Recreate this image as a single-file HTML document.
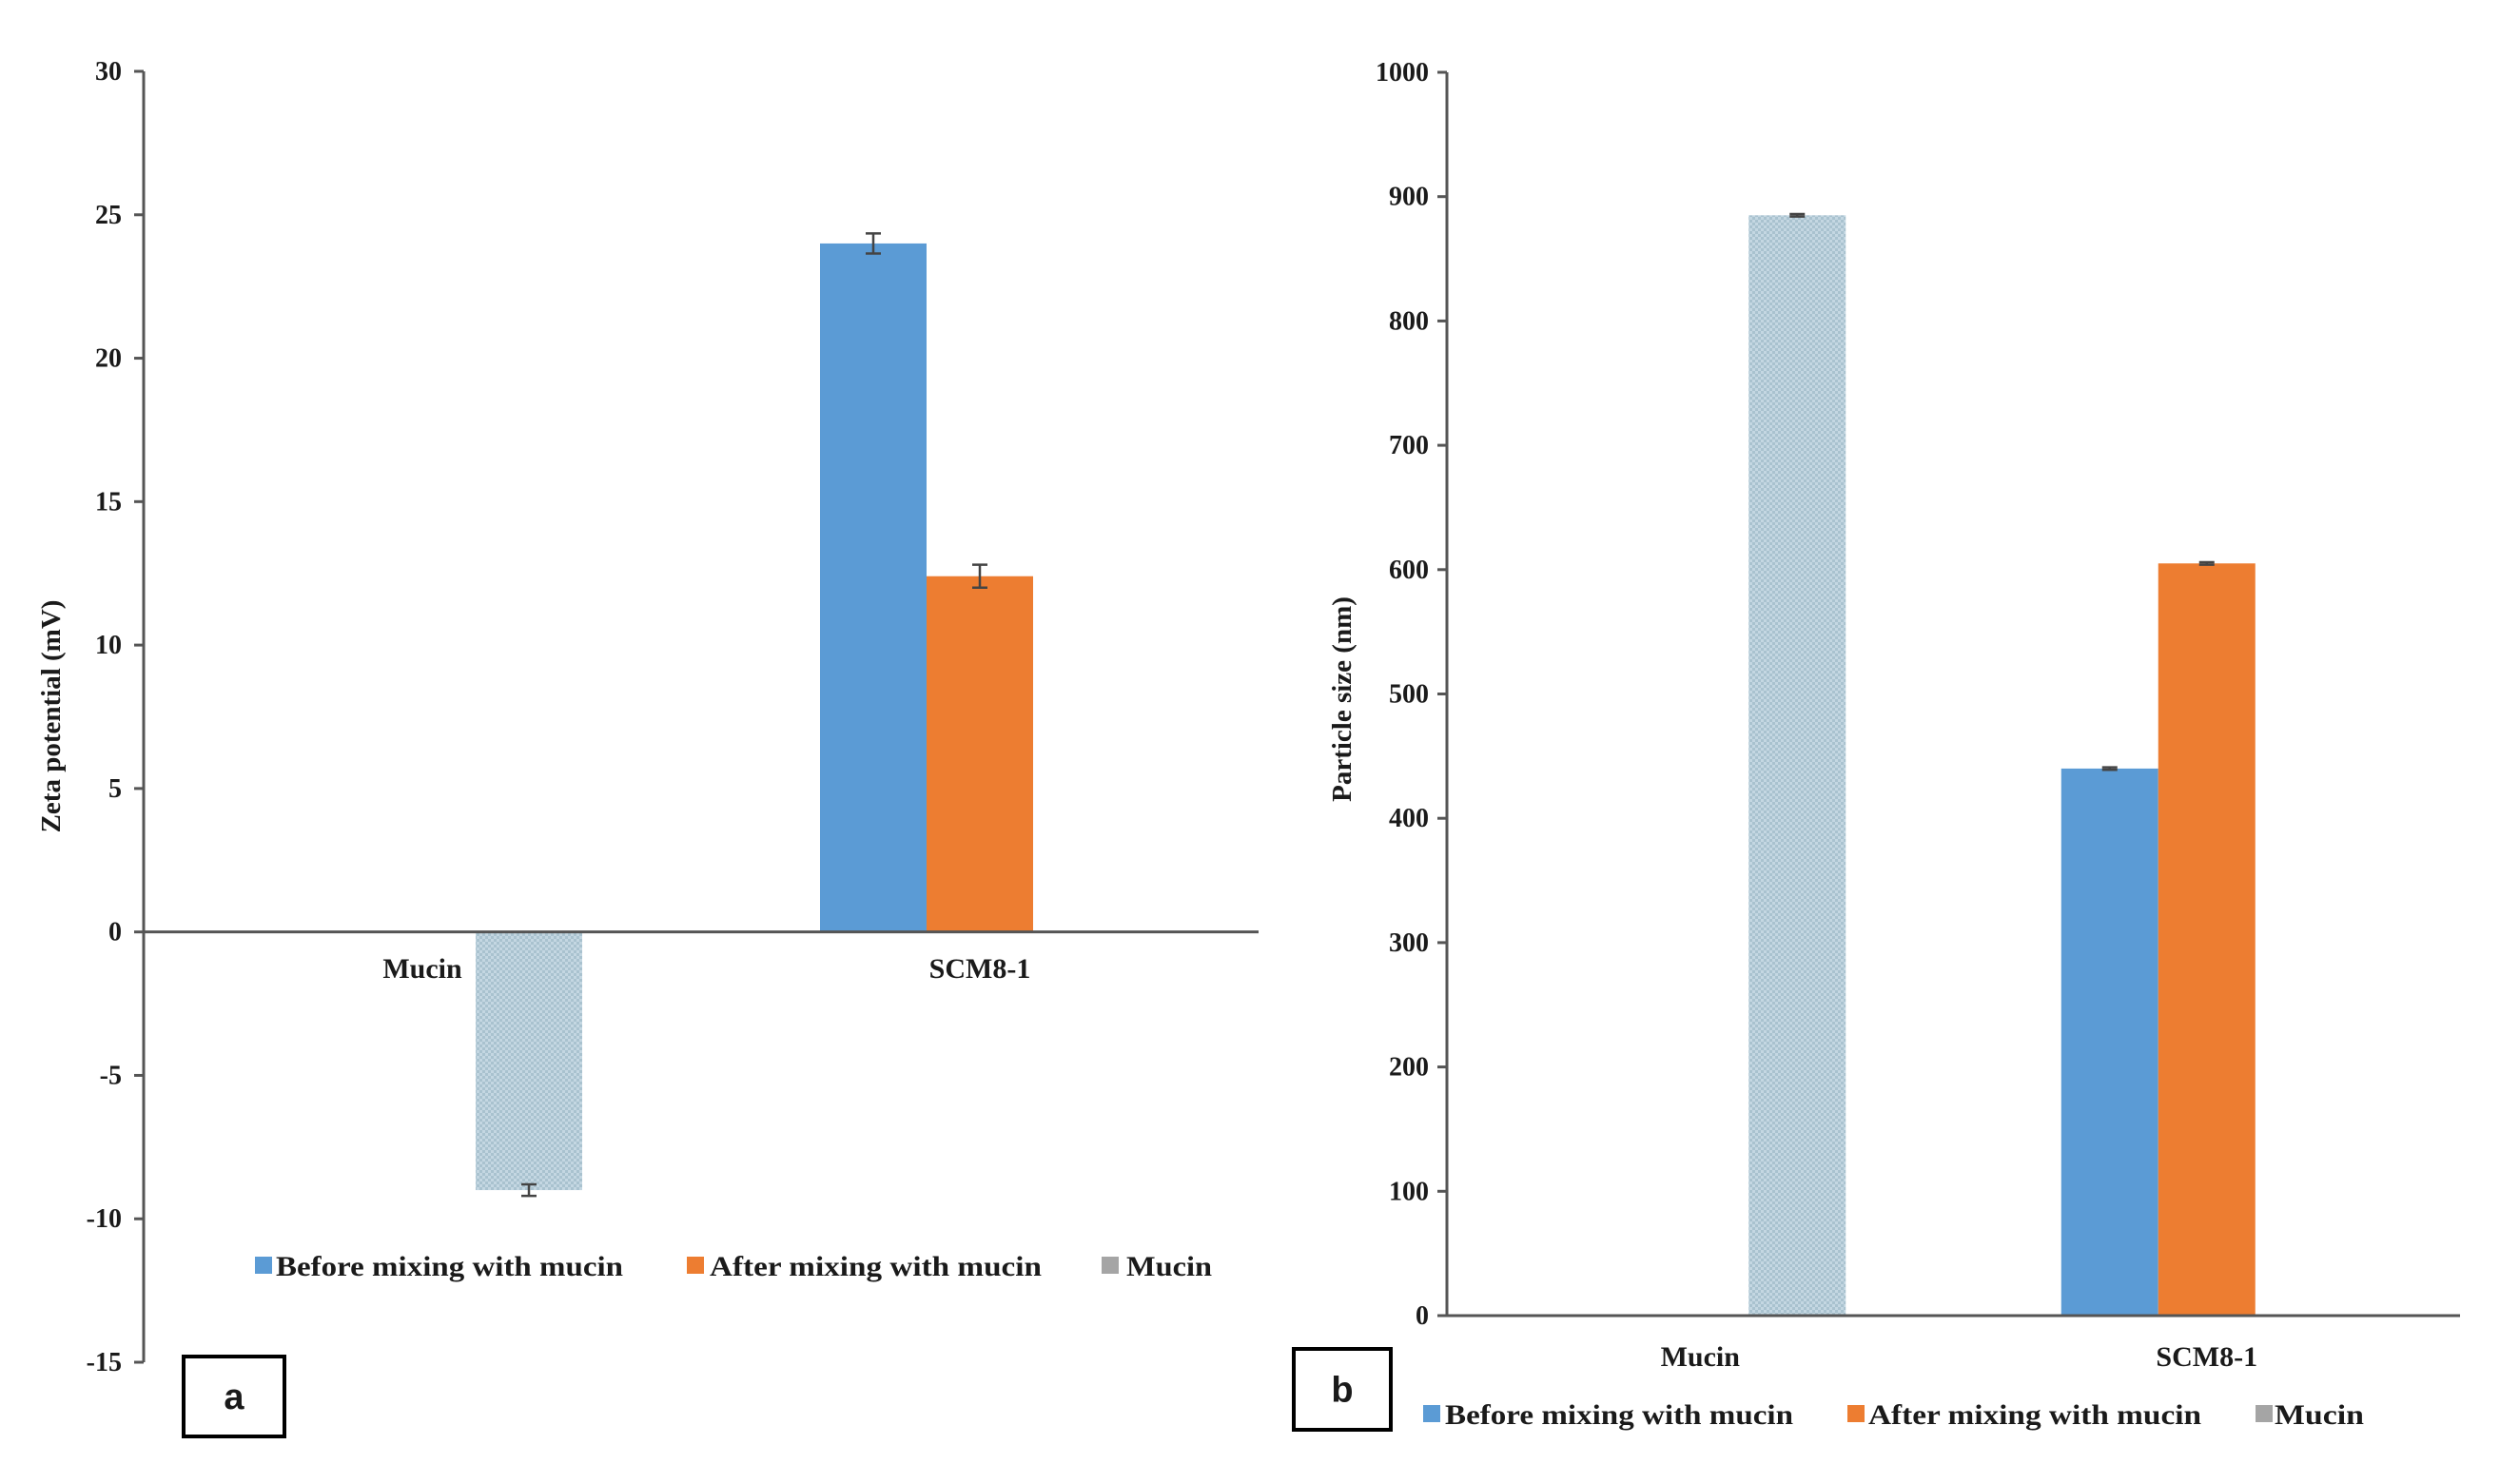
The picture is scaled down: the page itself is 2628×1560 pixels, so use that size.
<!DOCTYPE html>
<html><head><meta charset="utf-8"><style>
html,body{margin:0;padding:0;background:#fff}
svg{display:block}
text{font-family:"Liberation Serif",serif;font-weight:bold;fill:#1a1a1a}
</style></head><body>
<svg id="svg" width="2628" height="1560" viewBox="0 0 2628 1560" xmlns="http://www.w3.org/2000/svg">
<defs>
<pattern id="chk" width="6" height="6" patternUnits="userSpaceOnUse">
<rect width="6" height="6" fill="#c4d7e2"/>
<rect width="3" height="3" fill="#a9c2cf"/>
<rect x="3" y="3" width="3" height="3" fill="#a9c2cf"/>
</pattern>
</defs>
<g id="chartA"></g>
<g id="chartB"></g>
</svg>
<script>
const categories = ["Mucin", "SCM8-1"];
const seriesNames = ["Before mixing with mucin", "After mixing with mucin", "Mucin"];
const zetaBefore = [0, 24.0];
const zetaAfter = [0, 12.4];
const zetaMucin = [-9.0, 0];
const zetaErrBefore = [0, 0.35];
const zetaErrAfter = [0, 0.4];
const zetaErrMucin = [0.2, 0];
const zetaTicks = [30, 25, 20, 15, 10, 5, 0, -5, -10, -15];
const sizeBefore = [0, 440];
const sizeAfter = [0, 605];
const sizeMucin = [885, 0];
const sizeErr = [[0, 1], [0, 1], [1, 0]];
const sizeTicks = [1000, 900, 800, 700, 600, 500, 400, 300, 200, 100, 0];

const NS = "http://www.w3.org/2000/svg";
function el(parent, tag, attrs, txt) {
  const e = document.createElementNS(NS, tag);
  for (const k in attrs) e.setAttribute(k, attrs[k]);
  if (txt !== undefined) e.textContent = txt;
  parent.appendChild(e);
  return e;
}
const fills = ["#5b9bd5", "#ed7d31", "url(#chk)"];
const legendFills = ["#5b9bd5", "#ed7d31", "#a5a5a5"];

function drawChart(g, cfg) {
  const y = v => cfg.y1 - (v - cfg.vmin) / (cfg.vmax - cfg.vmin) * (cfg.y1 - cfg.y0);
  const band = (cfg.x1 - cfg.x0) / categories.length;
  let a = el(g, "line", {x1: cfg.x0, y1: y(cfg.vmax), x2: cfg.x0, y2: y(cfg.vmin), stroke: "#555", "stroke-width": 3});
  
  
  cfg.ticks.forEach(t => {
    const tk = el(g, "line", {x1: cfg.x0 - 10, y1: y(t), x2: cfg.x0, y2: y(t), stroke: "#555", "stroke-width": 3});
    
    
    const tl = el(g, "text", {x: cfg.tickX, y: y(t) + 9, "text-anchor": "end", "font-size": 28}, String(t));
    
    
  });
  cfg.series.forEach((vals, si) => {
    vals.forEach((v, ci) => {
      if (v === 0) return;
      const cx = cfg.x0 + band * (ci + 0.5);
      const bx = cx + (si - 1.5) * cfg.bw;
      const top = Math.min(y(v), y(0)), h = Math.abs(y(v) - y(0));
      const r = el(g, "rect", {x: bx, y: top, width: cfg.bw, height: h, fill: fills[si]});
      
      
      const e = cfg.errs[si][ci];
      const mx = bx + cfg.bw / 2;
      const eg = el(g, "path", {d: `M${mx},${y(v + e)}V${y(v - e)}M${mx - 8},${y(v + e)}H${mx + 8}M${mx - 8},${y(v - e)}H${mx + 8}`, stroke: "#444", "stroke-width": 2.5, fill: "none"});
      
      
    });
  });
  const z = el(g, "line", {x1: cfg.x0, y1: y(0), x2: cfg.x1, y2: y(0), stroke: "#555", "stroke-width": 3});
  
  
  categories.forEach((c, ci) => {
    const cx = cfg.x0 + band * (ci + 0.5);
    const t = el(g, "text", {x: cx, y: cfg.catY, "text-anchor": "middle", "font-size": 30}, c);
    
    
  });
  const yl = el(g, "text", {x: 0, y: 0, "text-anchor": "middle", "font-size": 29, transform: `translate(${cfg.ylX},${cfg.ylY}) rotate(-90)`}, cfg.ylabel);
  
  
  cfg.legend.forEach((L, i) => {
    const s = el(g, "rect", {x: L[0], y: cfg.legY - 20, width: 18, height: 18, fill: legendFills[i]});
    
    
    const t = el(g, "text", {x: L[1], y: cfg.legY, "font-size": 30, textLength: L[2], lengthAdjust: "spacingAndGlyphs"}, seriesNames[i]);
    
    
  });
  const b = el(g, "rect", {x: cfg.box[0], y: cfg.box[1], width: cfg.box[2], height: cfg.box[3], fill: "#fff", stroke: "#000", "stroke-width": 4});
  
  
  const bt = el(g, "text", {x: cfg.box[0] + cfg.box[2] / 2, y: cfg.box[1] + cfg.box[3] / 2 + 13, "text-anchor": "middle", "font-size": 38, style: "font-family:'Liberation Sans',sans-serif"}, cfg.panel);
  
  
}

drawChart(document.getElementById("chartA"), {
  x0: 151, x1: 1323, y0: 75, y1: 1432, vmax: 30, vmin: -15, bw: 112,
  ticks: zetaTicks, tickX: 128,
  series: [zetaBefore, zetaAfter, zetaMucin],
  errs: [zetaErrBefore, zetaErrAfter, zetaErrMucin],
  catY: 1028, ylabel: "Zeta potential (mV)", ylX: 63, ylY: 753,
  legY: 1341, legend: [[268, 290, 365], [722, 746, 349], [1158, 1184, 90]],
  box: [193, 1426, 106, 84], panel: "a"
});
drawChart(document.getElementById("chartB"), {
  x0: 1521, x1: 2586, y0: 76, y1: 1383, vmax: 1000, vmin: 0, bw: 102,
  ticks: sizeTicks, tickX: 1502,
  series: [sizeBefore, sizeAfter, sizeMucin],
  errs: sizeErr,
  catY: 1436, ylabel: "Particle size (nm)", ylX: 1420, ylY: 735,
  legY: 1497, legend: [[1496, 1519, 366], [1942, 1964, 350], [2371, 2391, 94]],
  box: [1360, 1418, 102, 85], panel: "b"
});
</script>
</body></html>
